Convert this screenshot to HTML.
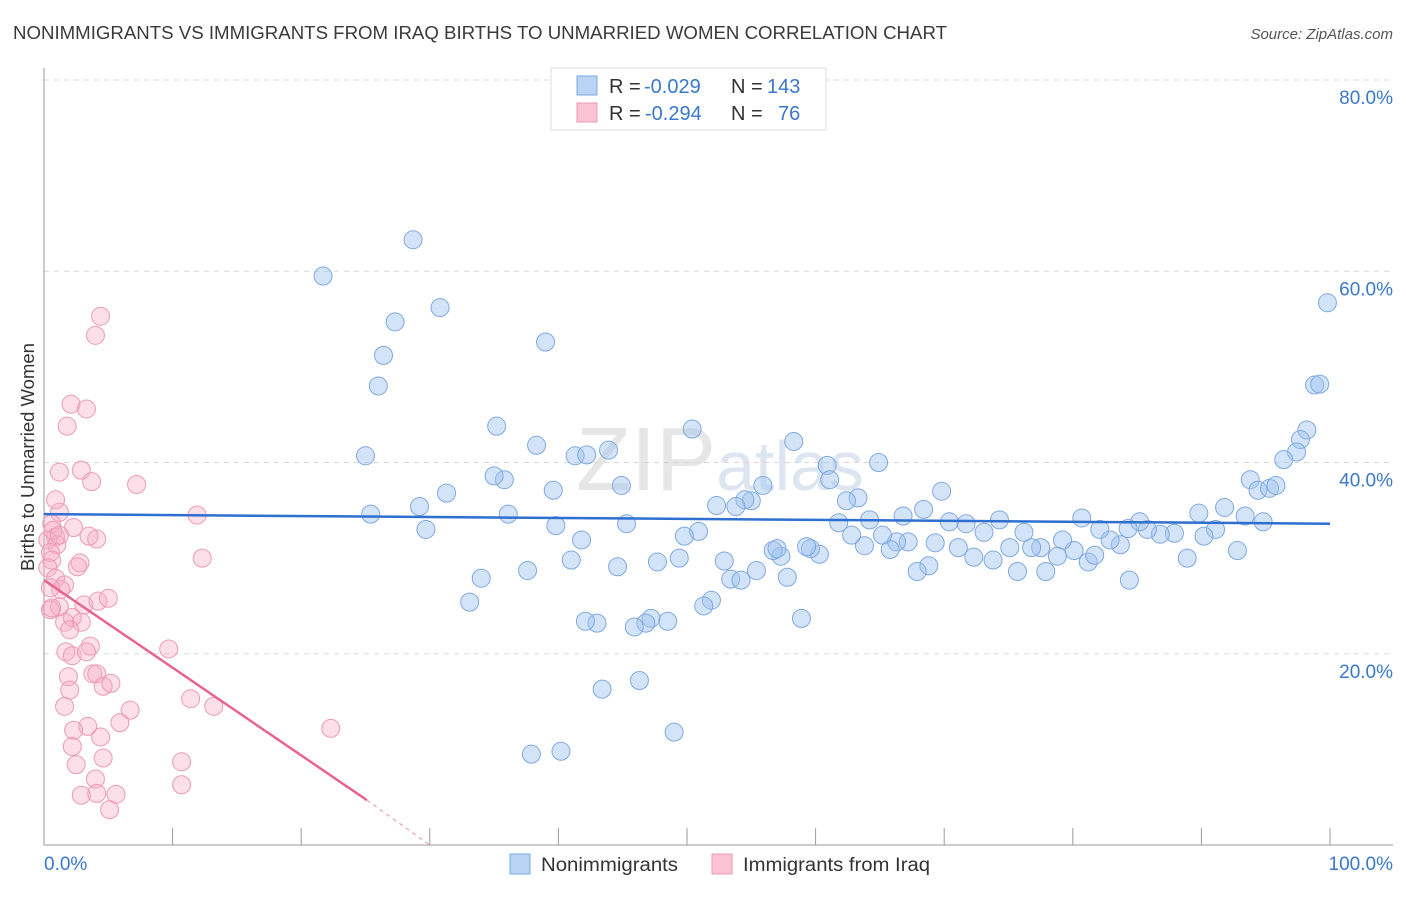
<!DOCTYPE html>
<html><head><meta charset="utf-8"><style>
body{margin:0;background:#fff;font-family:"Liberation Sans",sans-serif;}
svg text{font-family:"Liberation Sans",sans-serif;}
</style></head><body>
<svg id="chart" width="1406" height="892" viewBox="0 0 1406 892">
<text x="13" y="39" font-size="18" fill="#3a3a3a" textLength="934" lengthAdjust="spacingAndGlyphs">NONIMMIGRANTS VS IMMIGRANTS FROM IRAQ BIRTHS TO UNMARRIED WOMEN CORRELATION CHART</text>
<text x="1393" y="39" font-size="15" fill="#555" font-style="italic" text-anchor="end">Source: ZipAtlas.com</text>
<text x="720" y="490" font-size="90" fill="#e6e6e6" text-anchor="middle" font-family="Liberation Serif">ZIP<tspan font-size="70" font-family="Liberation Sans" fill="#dde6f0">atlas</tspan></text>
<g id="grid"></g>
<g id="axes"></g>
<g id="pts"></g>
<g id="trend"></g>
<text transform="translate(34,457) rotate(-90)" font-size="18.5" fill="#333" text-anchor="middle">Births to Unmarried Women</text>
<text x="44" y="870" font-size="19" fill="#3a78c9">0.0%</text>
<text x="1393" y="870" font-size="19" fill="#3a78c9" text-anchor="end">100.0%</text>
<g>
<rect x="551" y="68" width="275" height="62" fill="#fff" stroke="#ddd"/>
<rect x="577" y="76" width="20" height="19" fill="#b8d3f4" stroke="#7aa8e0"/>
<rect x="577" y="103" width="20" height="19" fill="#fac4d4" stroke="#eb9ab5"/>
<text x="609" y="93" font-size="20" fill="#333">R = <tspan fill="#3a78c9" x="644">-0.029</tspan><tspan x="731">N = </tspan><tspan fill="#3a78c9" x="767">143</tspan></text>
<text x="609" y="120" font-size="20" fill="#333">R = <tspan fill="#3a78c9" x="645">-0.294</tspan><tspan x="731">N = </tspan><tspan fill="#3a78c9" x="778">76</tspan></text>
</g>
<g>
<rect x="510" y="854" width="20" height="20" fill="#b8d3f4" stroke="#7aa8e0"/>
<text x="541" y="871" font-size="19" fill="#333" textLength="137" lengthAdjust="spacingAndGlyphs">Nonimmigrants</text>
<rect x="712" y="854" width="20" height="20" fill="#fac4d4" stroke="#eb9ab5"/>
<text x="743" y="871" font-size="19" fill="#333" textLength="187" lengthAdjust="spacingAndGlyphs">Immigrants from Iraq</text>
</g>
</svg>
<script>
const yTicks=[20,40,60,80];
const yTickLabels=["20.0%","40.0%","60.0%","80.0%"];
const xTicks=[0,10,20,30,40,50,60,70,80,90,100];
const blueX=[21.7,28.7,27.3,30.8,26.4,26.0,39.0,25.0,35.2,38.3,41.3,42.2,43.9,50.4,58.3,60.9,64.9,99.8,98.8,99.2,98.2,97.7,97.4,96.4,93.8,94.4,95.3,95.8,91.8,89.8,93.4,94.8,92.8,88.9,91.1,90.2,87.9,86.8,85.8,85.2,84.4,83.7,82.9,82.1,81.2,80.7,80.1,79.2,78.8,77.9,77.5,76.8,76.2,75.7,75.1,74.3,73.8,73.1,72.3,71.7,71.1,70.4,69.8,69.3,68.8,68.4,67.9,67.2,66.8,66.3,65.8,65.2,63.8,63.3,62.8,62.4,61.8,61.1,60.3,59.6,59.3,58.9,57.8,57.3,56.7,55.9,55.4,55.0,54.5,53.8,53.4,52.9,52.3,51.9,51.3,50.9,49.8,49.4,48.5,47.7,47.2,46.8,45.9,46.3,44.6,43.4,43.0,41.8,41.0,39.8,39.6,37.6,36.1,35.8,35.0,34.0,33.1,31.3,29.7,29.2,25.4,40.2,37.9,49.0,42.1,44.9,45.3,54.2,57.0,64.2,84.3,81.7];
const blueY=[59.5,63.3,54.7,56.2,51.2,48.0,52.6,40.7,43.8,41.8,40.7,40.8,41.3,43.5,42.2,39.7,40.0,56.7,48.1,48.2,43.4,42.4,41.1,40.3,38.2,37.1,37.3,37.6,35.3,34.7,34.4,33.8,30.8,30.0,33.0,32.3,32.6,32.5,33.0,33.8,27.7,31.4,31.9,33.0,29.6,34.2,30.8,31.9,30.2,28.6,31.1,31.1,32.7,28.6,31.1,34.0,29.8,32.7,30.1,33.6,31.1,33.8,37.0,31.6,29.2,35.1,28.6,31.7,34.4,31.7,30.9,32.4,31.3,36.3,32.4,36.0,33.7,38.2,30.4,31.0,31.2,23.7,28.0,30.2,30.8,37.6,28.7,36.0,36.1,35.4,27.8,29.7,35.5,25.6,25.0,32.8,32.3,30.0,23.4,29.6,23.7,23.2,22.8,17.2,29.1,16.3,23.2,31.9,29.8,33.4,37.1,28.7,34.6,38.2,38.6,27.9,25.4,36.8,33.0,35.4,34.6,9.8,9.5,11.8,23.4,37.6,33.6,27.7,31.0,34.0,33.1,30.3];
const pinkX=[4.4,4.0,2.1,3.3,1.8,1.2,2.9,3.7,7.2,11.9,12.3,1.2,2.3,4.1,3.5,0.6,0.9,0.3,1.0,0.5,0.6,0.3,0.9,2.8,2.6,1.6,1.3,0.5,3.1,4.2,5.0,1.2,0.5,2.2,2.9,1.6,2.0,1.7,3.6,9.7,2.2,3.3,3.8,4.1,1.9,4.6,5.2,2.0,11.4,13.2,1.6,6.7,5.9,3.4,2.3,4.4,22.3,2.2,4.6,10.7,2.5,4.0,10.7,2.9,4.1,5.6,5.1,0.6,0.9,0.7,1.2];
const pinkY=[55.3,53.3,46.1,45.6,43.8,39.0,39.2,38.0,37.7,34.5,30.0,34.8,33.2,32.0,32.3,33.6,32.2,31.9,31.4,30.6,29.8,29.0,27.9,29.5,29.1,27.2,26.7,26.9,25.1,25.5,25.8,24.9,24.6,23.8,23.3,23.3,22.5,20.2,20.8,20.5,19.8,20.2,17.9,17.9,17.6,16.6,16.9,16.2,15.3,14.5,14.5,14.1,12.8,12.4,12.0,11.3,12.2,10.3,9.1,8.7,8.4,6.9,6.3,5.2,5.4,5.3,3.7,24.8,36.1,32.9,32.4];
const blueTrend=[34.6,33.6];
const pinkTrend=[27.7,4.7,25.1,30.0];
const NS="http://www.w3.org/2000/svg";
const X0=44,X1=1330,Y0=845,Y80=80;
const sx=v=>X0+(X1-X0)*v/100;
const sy=v=>Y0-(Y0-Y80)*v/80;
function mk(tag,attrs,parent){const e=document.createElementNS(NS,tag);for(const k in attrs)e.setAttribute(k,attrs[k]);parent.appendChild(e);return e;}
const grid=document.getElementById('grid'),axes=document.getElementById('axes'),pts=document.getElementById('pts'),tr=document.getElementById('trend');
yTicks.forEach((t,i)=>{
 const l=mk('line',{x1:X0,x2:1393,y1:sy(t),y2:sy(t),stroke:'#d8d8d8','stroke-dasharray':'5,5'},grid);
 
 
 const tx=mk('text',{x:1393,y:sy(t)+24,'font-size':19,fill:'#3a78c9','text-anchor':'end'},grid);
 tx.textContent=yTickLabels[i];
 
 
});
const ya=mk('line',{x1:X0,x2:X0,y1:68,y2:Y0,stroke:'#999'},axes);


const xa=mk('line',{x1:X0,x2:1393,y1:Y0,y2:Y0,stroke:'#999'},axes);


xTicks.forEach(t=>{
 const l=mk('line',{x1:sx(t),x2:sx(t),y1:828,y2:Y0,stroke:'#999'},axes);
 
 
});
blueX.forEach((x,i)=>{
 const c=mk('circle',{cx:sx(x),cy:sy(blueY[i]),r:9,fill:'rgba(160,196,240,0.45)',stroke:'#7ea9df','stroke-width':1},pts);
 
 
});
pinkX.forEach((x,i)=>{
 const c=mk('circle',{cx:sx(x),cy:sy(pinkY[i]),r:9,fill:'rgba(246,172,197,0.38)',stroke:'#eb9ab5','stroke-width':1},pts);
 
 
});
const bt=mk('line',{x1:sx(0),x2:sx(100),y1:sy(blueTrend[0]),y2:sy(blueTrend[1]),stroke:'#2f6fd0','stroke-width':2.5},tr);


const pt=mk('line',{x1:sx(0),x2:sx(pinkTrend[2]),y1:sy(pinkTrend[0]),y2:sy(pinkTrend[1]),stroke:'#e8648f','stroke-width':2.5},tr);


const pd=mk('line',{x1:sx(pinkTrend[2]),x2:sx(pinkTrend[3]),y1:sy(pinkTrend[1]),y2:sy(0),stroke:'#e8a0b8','stroke-width':1.2,'stroke-dasharray':'4,4'},tr);


</script>
</body></html>
